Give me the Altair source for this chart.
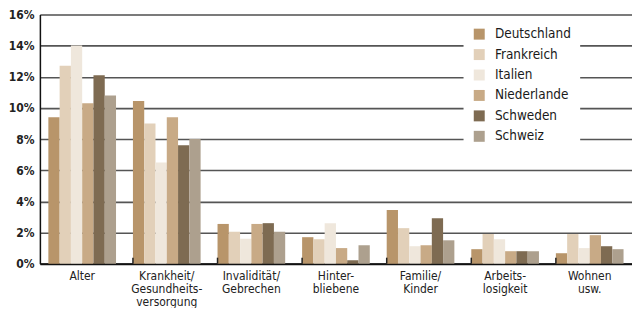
import altair as alt
import pandas as pd

categories = ["Alter", "Krankheit/|Gesundheits-|versorgung", "Invalidität/|Gebrechen",
              "Hinter-|bliebene", "Familie/|Kinder", "Arbeits-|losigkeit", "Wohnen|usw."]
countries = ["Deutschland", "Frankreich", "Italien", "Niederlande", "Schweden", "Schweiz"]
colors = ["#b8956a", "#e2d0b9", "#efe7dc", "#c8aa86", "#7e6b52", "#ada08e"]

values = {
    "Deutschland": [9.4, 10.45, 2.55, 1.7, 3.45, 0.93, 0.67],
    "Frankreich":  [12.7, 9.0, 2.05, 1.57, 2.28, 1.9, 1.9],
    "Italien":     [14.0, 6.5, 1.6, 2.6, 1.12, 1.57, 1.0],
    "Niederlande": [10.3, 9.4, 2.55, 1.0, 1.18, 0.8, 1.83],
    "Schweden":    [12.1, 7.6, 2.6, 0.22, 2.92, 0.8, 1.12],
    "Schweiz":     [10.8, 8.0, 2.05, 1.18, 1.5, 0.8, 0.93],
}

rows = []
for c in countries:
    for cat, v in zip(categories, values[c]):
        rows.append({"cat": cat, "land": c, "v": v / 100})
df = pd.DataFrame(rows)
ticks_df = pd.DataFrame({"cat": categories[1:]})

FONT = "Liberation Sans Narrow, DejaVu Sans Condensed, Roboto Condensed, sans-serif"

xscale = alt.Scale(domain=categories, paddingInner=0.2, paddingOuter=0.1)

bars = alt.Chart(df).mark_bar().encode(
    x=alt.X("cat:N", sort=categories, scale=xscale,
            axis=alt.Axis(title=None, labelAngle=0, ticks=False, domain=True,
                          domainColor="#111", domainWidth=2,
                          labelExpr="split(datum.label, '|')",
                          labelLineHeight=13, labelFontSize=12, labelPadding=7,
                          labelColor="#222", labelFont=FONT, labelBaseline="top")),
    xOffset=alt.XOffset("land:N", sort=countries, scale=alt.Scale(paddingInner=0, paddingOuter=0)),
    y=alt.Y("v:Q", scale=alt.Scale(domain=[0, 0.16], nice=False),
            axis=alt.Axis(title=None, format=".0%", values=[0, 0.02, 0.04, 0.06, 0.08, 0.10, 0.12, 0.14, 0.16],
                          ticks=False, domain=True, domainColor="#111", domainWidth=1.5,
                          grid=True, gridColor="#555", gridWidth=1.6,
                          labelFontSize=12, labelFontWeight="bold", labelPadding=6,
                          labelColor="#222", labelFont=FONT)),
    color=alt.Color("land:N", sort=countries,
                    scale=alt.Scale(domain=countries, range=colors),
                    legend=alt.Legend(title=None, orient="none", legendX=425, legendY=4,
                                      fillColor="white", padding=9,
                                      symbolType="square", symbolSize=121, symbolStrokeWidth=0,
                                      symbolOpacity=1,
                                      labelFontSize=13.5, labelFont=FONT, labelColor="#1a1a1a",
                                      labelOffset=9, rowPadding=5.5)),
)

ticks = alt.Chart(ticks_df).mark_rule(color="#222", strokeWidth=1.5).encode(
    x=alt.X("cat:N", sort=categories, scale=xscale, bandPosition=0),
    y=alt.value(250),
    y2=alt.value(244),
)

chart = alt.layer(bars, ticks).properties(
    width=594, height=250, padding={"left": 0, "top": 0, "right": 0, "bottom": 0}
).configure_view(stroke=None).configure(background="white")

chart.save("out.html", embed_options={"renderer": "svg", "actions": False})
